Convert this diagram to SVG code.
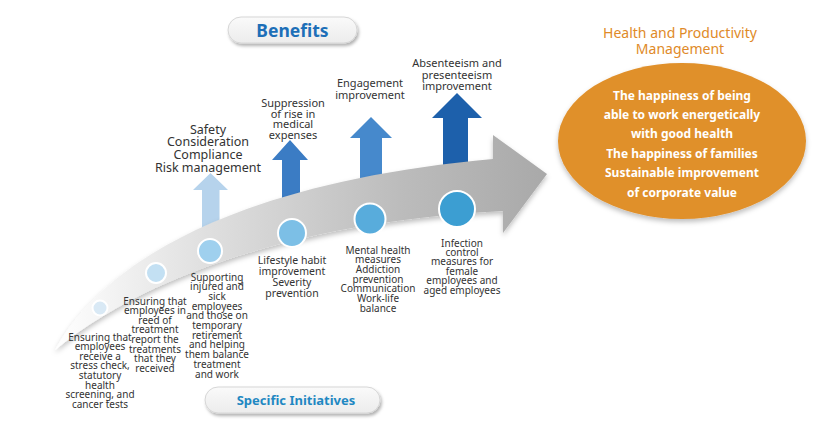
<svg xmlns="http://www.w3.org/2000/svg" width="820" height="426" viewBox="0 0 820 426">
<defs>
<linearGradient id="band" x1="55" y1="0" x2="547" y2="0" gradientUnits="userSpaceOnUse">
<stop offset="0" stop-color="#ffffff"/>
<stop offset="0.3" stop-color="#e0e0e0"/>
<stop offset="0.7" stop-color="#bcbcbc"/>
<stop offset="1" stop-color="#a9a9a9"/>
</linearGradient>
<linearGradient id="pill" x1="0" y1="0" x2="0" y2="1">
<stop offset="0" stop-color="#fafafa"/>
<stop offset="1" stop-color="#ececec"/>
</linearGradient>
<filter id="sh" x="-20%" y="-20%" width="140%" height="150%">
<feDropShadow dx="1.5" dy="2.5" stdDeviation="1.8" flood-color="#000" flood-opacity="0.3"/>
</filter>
<filter id="sh2" x="-20%" y="-20%" width="140%" height="150%">
<feDropShadow dx="0" dy="3" stdDeviation="2.5" flood-color="#000" flood-opacity="0.25"/>
</filter>
</defs>
<style>
.lbl{font-family:"Noto Sans","Open Sans",sans-serif;fill:#333;text-anchor:middle}
.s10{font-size:10px}
.s11{font-size:11px}
.s12{font-size:12.5px}
.wh{font-family:"Noto Sans","Open Sans",sans-serif;fill:#fff;font-size:12px;font-weight:bold;text-anchor:middle}
.circ{stroke:#fff;stroke-width:2}
</style>
<rect width="820" height="426" fill="#fff"/>

<g id="benefits">
<rect x="228" y="17" width="129" height="26" rx="13" fill="url(#pill)" stroke="#d6d6d6" filter="url(#sh)"/>
<text x="292.5" y="36.5" font-family="'Noto Sans','Open Sans',sans-serif" font-size="17.5" font-weight="bold" fill="#1d6fb8" text-anchor="middle">Benefits</text>
</g>

<g id="up-arrows">
<g id="arrow-safety"><path d="M202,240 V190 H193 L210.5,173 L228,190 H219.5 V240 Z" fill="#b6d3ec"/></g>
<g id="arrow-medical"><path d="M282,220 V160 H272 L290,140 L308,160 H300 V220 Z" fill="#3b7cc4"/></g>
<g id="arrow-engagement"><path d="M360,200 V138 H350 L371,117 L392,138 H382 V200 Z" fill="#4689cc"/></g>
<g id="arrow-absenteeism"><path d="M443,190 V118 H432 L457,93 L482,118 H468 V190 Z" fill="#1d60ab"/></g>
</g>

<g id="main-arrow" filter="url(#sh2)">
<path d="M55,350 C110,250 260,180 493,159 L493,135 L547,174 L503,233 L503,211 C400,216 190,240 55,350 Z" fill="url(#band)"/>
</g>

<g id="circles">
<g id="c1"><circle cx="100" cy="308" r="7.5" class="circ" fill="#d9e9f5"/></g>
<g id="c2"><circle cx="156" cy="273" r="10" class="circ" fill="#c3e0f3"/></g>
<g id="c3"><circle cx="210" cy="251" r="12" class="circ" fill="#9fd0ee"/></g>
<g id="c4"><circle cx="292" cy="233" r="14" class="circ" fill="#7cbfe6"/></g>
<g id="c5"><circle cx="370" cy="219" r="15.5" class="circ" fill="#58acdc"/></g>
<g id="c6"><circle cx="457" cy="209" r="18" class="circ" fill="#3c9ed2"/></g>
</g>

<g id="benefit-labels">
<text class="lbl s12"><tspan x="208" y="133.5">Safety</tspan><tspan x="208" dy="12.8">Consideration</tspan><tspan x="208" dy="12.8">Compliance</tspan><tspan x="208" dy="12.8">Risk management</tspan></text>
<text class="lbl s11"><tspan x="293" y="107">Suppression</tspan><tspan x="293" dy="10.7">of rise in</tspan><tspan x="293" dy="10.7">medical</tspan><tspan x="293" dy="10.7">expenses</tspan></text>
<text class="lbl s11"><tspan x="370" y="87">Engagement</tspan><tspan x="370" dy="12">improvement</tspan></text>
<text class="lbl s11"><tspan x="457" y="67">Absenteeism and</tspan><tspan x="457" dy="11.5">presenteeism</tspan><tspan x="457" dy="11.5">improvement</tspan></text>
</g>

<g id="initiative-labels">
<text class="lbl s10"><tspan x="100" y="340.5">Ensuring that</tspan><tspan x="100" dy="9.6">employees</tspan><tspan x="100" dy="9.6">receive a</tspan><tspan x="100" dy="9.6">stress check,</tspan><tspan x="100" dy="9.6">statutory</tspan><tspan x="100" dy="9.6">health</tspan><tspan x="100" dy="9.6">screening, and</tspan><tspan x="100" dy="9.6">cancer tests</tspan></text>
<text class="lbl s10"><tspan x="155" y="304.5">Ensuring that</tspan><tspan x="155" dy="9.6">employees in</tspan><tspan x="155" dy="9.6">reed of</tspan><tspan x="155" dy="9.6">treatment</tspan><tspan x="155" dy="9.6">report the</tspan><tspan x="155" dy="9.6">treatments</tspan><tspan x="155" dy="9.6">that they</tspan><tspan x="155" dy="9.6">received</tspan></text>
<text class="lbl s10"><tspan x="217" y="280.5">Supporting</tspan><tspan x="217" dy="9.7">injured and</tspan><tspan x="217" dy="9.7">sick</tspan><tspan x="217" dy="9.7">employees</tspan><tspan x="217" dy="9.7">and those on</tspan><tspan x="217" dy="9.7">temporary</tspan><tspan x="217" dy="9.7">retirement</tspan><tspan x="217" dy="9.7">and helping</tspan><tspan x="217" dy="9.7">them balance</tspan><tspan x="217" dy="9.7">treatment</tspan><tspan x="217" dy="9.7">and work</tspan></text>
<text class="lbl" font-size="10.5"><tspan x="292" y="264">Lifestyle habit</tspan><tspan x="292" dy="11">improvement</tspan><tspan x="292" dy="11">Severity</tspan><tspan x="292" dy="11">prevention</tspan></text>
<text class="lbl s10"><tspan x="378" y="253.5">Mental health</tspan><tspan x="378" dy="9.7">measures</tspan><tspan x="378" dy="9.7">Addiction</tspan><tspan x="378" dy="9.7">prevention</tspan><tspan x="378" dy="9.7">Communication</tspan><tspan x="378" dy="9.7">Work-life</tspan><tspan x="378" dy="9.7">balance</tspan></text>
<text class="lbl s10"><tspan x="462" y="246.5">Infection</tspan><tspan x="462" dy="9.4">control</tspan><tspan x="462" dy="9.4">measures for</tspan><tspan x="462" dy="9.4">female</tspan><tspan x="462" dy="9.4">employees and</tspan><tspan x="462" dy="9.4">aged employees</tspan></text>
</g>

<g id="specific-initiatives">
<rect x="205" y="387" width="175" height="26" rx="13" fill="url(#pill)" stroke="#d6d6d6" filter="url(#sh)"/>
<text x="296" y="404.5" font-family="'Noto Sans','Open Sans',sans-serif" font-size="13" font-weight="bold" fill="#1f88c2" text-anchor="middle">Specific Initiatives</text>
</g>

<g id="health-productivity">
<text font-family="'Noto Sans','Open Sans',sans-serif" font-size="14" fill="#e08a28" text-anchor="middle"><tspan x="680" y="38">Health and Productivity</tspan><tspan x="680" y="54">Management</tspan></text>
<ellipse cx="682" cy="141" rx="124" ry="78" fill="#e0902c" filter="url(#sh2)"/>
<text class="wh"><tspan x="682" y="99.5">The happiness of being</tspan><tspan x="682" dy="19.4">able to work energetically</tspan><tspan x="682" dy="19.4">with good health</tspan><tspan x="682" dy="19.4">The happiness of families</tspan><tspan x="682" dy="19.4">Sustainable improvement</tspan><tspan x="682" dy="19.4">of corporate value</tspan></text>
</g>
</svg>
